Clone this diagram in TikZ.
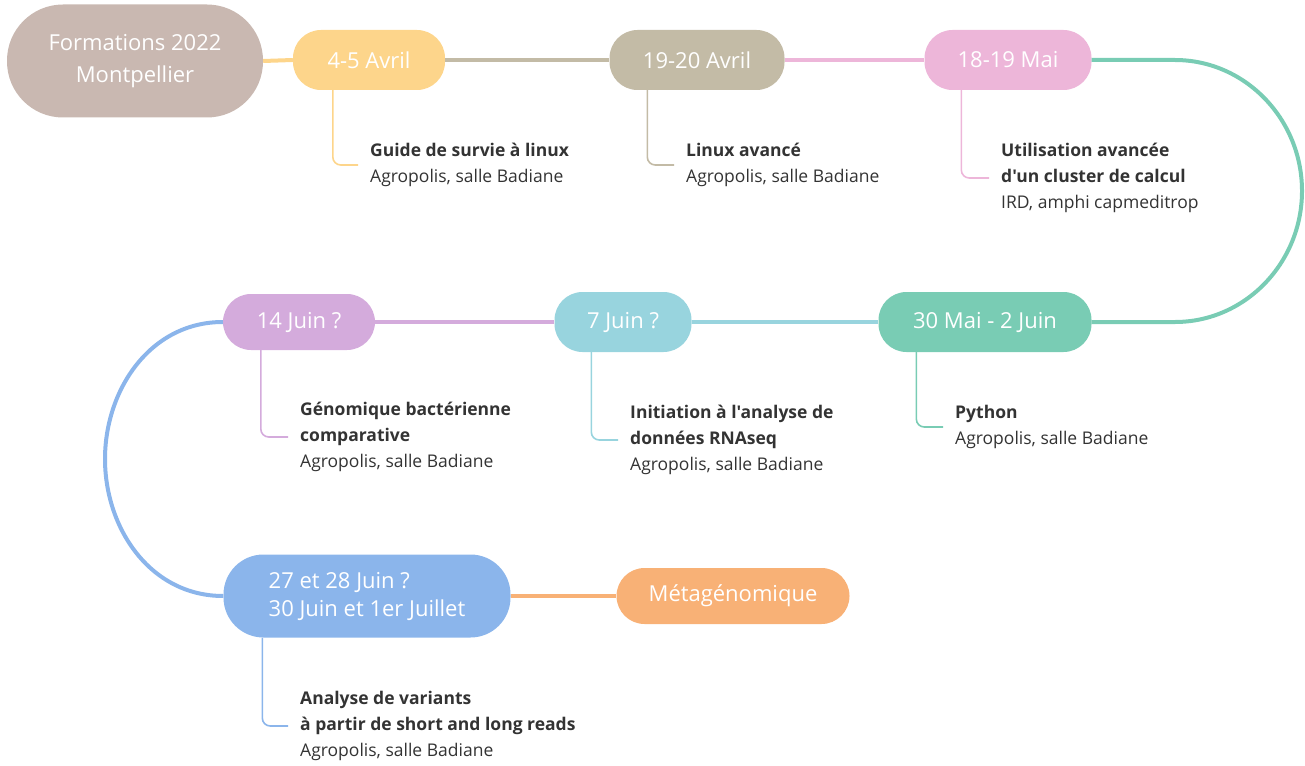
\documentclass[tikz,border=0pt]{standalone}
\usepackage{fontspec}
\setmainfont{Open Sans}[Ligatures=TeXOff]
\definecolor{cbrown}{HTML}{C9B8B1}
\definecolor{cyellow}{HTML}{FDD58B}
\definecolor{ctaupe}{HTML}{C3BBA6}
\definecolor{cpink}{HTML}{EDB6D9}
\definecolor{cteal}{HTML}{79CCB4}
\definecolor{clblue}{HTML}{98D4DE}
\definecolor{cpurple}{HTML}{D4ABDC}
\definecolor{cblue}{HTML}{8BB5EB}
\definecolor{corange}{HTML}{F8B176}
\definecolor{ctext}{HTML}{333333}
\tikzset{
  pill/.style={fill=#1, text=white, inner sep=0pt, rounded corners=28pt,
    font=\fontsize{22}{31}\selectfont, align=center, minimum height=60pt},
  link/.style={line width=4pt, draw=#1},
  branch/.style={line width=1.6pt, draw=#1, rounded corners=8pt},
  info/.style={anchor=west, inner sep=0pt, align=left, text=ctext,
    font=\fontsize{17.5}{26}\selectfont},
}
\begin{document}
\begin{tikzpicture}[x=1pt, y=-1pt]
\useasboundingbox (0,0) rectangle (1305,765);

% turning points of the loop on the right
\coordinate (tA) at (1175,60);
\coordinate (tB) at (1175,322);

% date pills
\node[pill=cbrown, minimum width=256pt, minimum height=113pt, rounded corners=56pt,
  font=\fontsize{22}{32}\selectfont] (start) at (135,61) {Formations 2022\\Montpellier};
\node[pill=cyellow, minimum width=152pt] (d1) at (369,60) {4-5 Avril};
\node[pill=ctaupe, minimum width=175pt] (d2) at (697,60) {19-20 Avril};
\node[pill=cpink, minimum width=167pt] (d3) at (1008,60) {18-19 Mai};
\node[pill=cteal, minimum width=213pt] (d4) at (985,322) {30 Mai - 2 Juin};
\node[pill=clblue, minimum width=137pt] (d5) at (623,322) {7 Juin ?};
\node[pill=cpurple, minimum width=152pt, minimum height=56pt] (d6) at (299,322) {14 Juin ?};
\node[pill=cblue, minimum width=287pt, minimum height=83pt, rounded corners=40pt, align=left,
  font=\fontsize{22}{28}\selectfont] (d7) at (367,596) {27 et 28 Juin ?\\30 Juin et 1er Juillet};
\node[pill=corange, minimum width=233pt, minimum height=56pt] (d8) at (733,596) {Métagénomique};

% links between pills
\draw[link=cyellow] (start.east) -- (d1.west);
\draw[link=ctaupe] (d1.east) -- (d2.west);
\draw[link=cpink] (d2.east) -- (d3.west);
\draw[link=cteal] (d3.east) -- (tA) .. controls (1245,60) and (1302,119) .. (1302,191)
  .. controls (1302,263) and (1245,322) .. (tB) -- (d4.east);
\draw[link=clblue] (d4.west) -- (d5.east);
\draw[link=cpurple] (d5.west) -- (d6.east);
\draw[link=cblue] (d6.west) .. controls (150,322) and (105,390) .. (105,459)
  .. controls (105,528) and (150,596) .. (d7.west);
\draw[link=corange] (d7.east) -- (d8.west);

% session details
\node[info] (i1) at (370,165) {\textbf{Guide de survie à linux}\\Agropolis, salle Badiane};
\node[info] (i2) at (686,165) {\textbf{Linux avancé}\\Agropolis, salle Badiane};
\node[info] (i3) at (1001,178) {\textbf{Utilisation avancée}\\\textbf{d'un cluster de calcul}\\IRD, amphi capmeditrop};
\node[info] (i4) at (955,427) {\textbf{Python}\\Agropolis, salle Badiane};
\node[info] (i5) at (630,440) {\textbf{Initiation à l'analyse de}\\\textbf{données RNAseq}\\Agropolis, salle Badiane};
\node[info] (i6) at (300,437) {\textbf{Génomique bactérienne}\\\textbf{comparative}\\Agropolis, salle Badiane};
\node[info] (i7) at (300,726) {\textbf{Analyse de variants}\\\textbf{à partir de short and long reads}\\Agropolis, salle Badiane};

\draw[branch=cyellow] ([xshift=40pt]d1.south west) |- ([xshift=-12pt]i1.west);
\draw[branch=ctaupe] ([xshift=38pt]d2.south west) |- ([xshift=-12pt]i2.west);
\draw[branch=cpink] ([xshift=37pt]d3.south west) |- ([xshift=-12pt]i3.west);
\draw[branch=cteal] ([xshift=38pt]d4.south west) |- ([xshift=-12pt]i4.west);
\draw[branch=clblue] ([xshift=37pt]d5.south west) |- ([xshift=-12pt]i5.west);
\draw[branch=cpurple] ([xshift=38pt]d6.south west) |- ([xshift=-12pt]i6.west);
\draw[branch=cblue] ([xshift=39pt]d7.south west) |- ([xshift=-12pt]i7.west);
\end{tikzpicture}
\end{document}
